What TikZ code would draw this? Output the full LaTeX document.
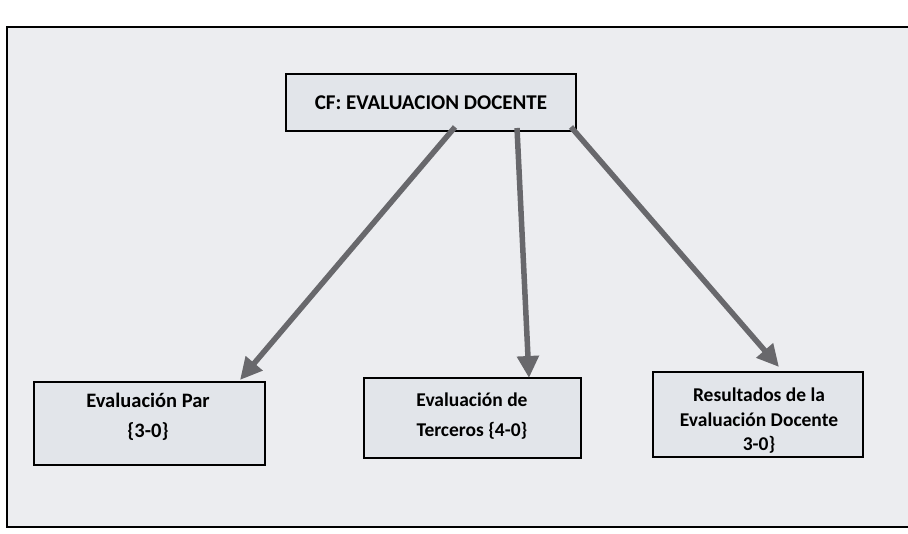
\documentclass[tikz,border=0pt]{standalone}
\usepackage{fontspec}
\setmainfont{Carlito}
\usetikzlibrary{arrows.meta}
\definecolor{bgfill}{RGB}{236,237,240}
\definecolor{boxfill}{RGB}{226,229,234}
\definecolor{arrowgray}{RGB}{104,104,108}
\tikzset{
  box/.style={draw=black, line width=2.2pt, fill=boxfill, inner sep=0pt},
  boxtext/.style={inner sep=0pt, align=center},
  conn/.style={draw=arrowgray, line width=5.5pt, -{Triangle[length=22pt,width=21pt]}}
}
\begin{document}
\begin{tikzpicture}[x=1pt,y=-1pt]
\useasboundingbox (0,0) rectangle (908,534);
\fill[white] (0,0) rectangle (908,534);
\draw[line width=2.5pt, fill=bgfill] (7,27) rectangle (915,527);
\node[box, minimum width=290pt, minimum height=57pt, font=\bfseries\fontsize{21}{24}\selectfont] (top) at (431,102.5) {CF: EVALUACION DOCENTE};
\node[box, minimum width=231pt, minimum height=83pt] (b1) at (149.5,423.5) {};
\node[boxtext, font=\bfseries\fontsize{20.5}{30}\selectfont] (b1t) at (148,417) {Evaluación Par\\\{3-0\}};
\node[box, minimum width=217pt, minimum height=80pt] (b2) at (472.5,418) {};
\node[boxtext, font=\bfseries\fontsize{19.5}{30}\selectfont] (b2t) at (472,416) {Evaluación de\\Terceros \{4-0\}};
\node[box, minimum width=210pt, minimum height=85pt] (b3) at (758,414.5) {};
\node[boxtext, font=\bfseries\fontsize{19.5}{24.5}\selectfont] (b3t) at (759,421) {Resultados de la\\Evaluación Docente\\3-0\}};
\coordinate (s1) at (455,127);
\coordinate (s2) at (517,128);
\coordinate (s3) at (571,127);
\coordinate (t1) at (240,380);
\coordinate (t2) at (529,378);
\coordinate (t3) at (779,367);
\draw[conn] (s1) -- (t1);
\draw[conn] (s2) -- (t2);
\draw[conn] (s3) -- (t3);
\end{tikzpicture}
\end{document}
